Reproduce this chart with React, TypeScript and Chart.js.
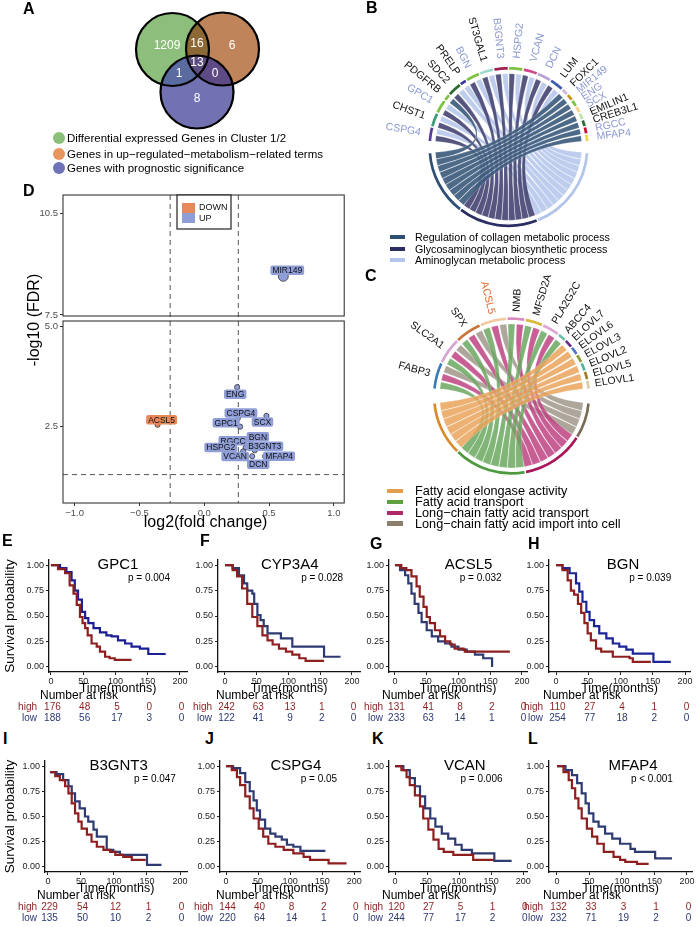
import React, { useEffect, useRef } from 'react';
import { Chart, registerables } from 'chart.js';
Chart.register(...registerables);

const FONT = "'Liberation Sans', Arial, Helvetica, sans-serif";

// ---------------- Panel A: Venn ----------------
const vennSets = [
  'Differential expressed Genes in Cluster 1/2',
  'Genes in up\u2212regulated\u2212metabolism\u2212related terms',
  'Genes with prognostic significance',
];
const vennRegions = ['A', 'B', 'C', 'AB', 'AC', 'BC', 'ABC'];
const vennCounts = [1209, 6, 8, 16, 1, 0, 13];

// ---------------- Panel B: chord ----------------
const bGenes = ['CSPG4', 'CHST1', 'GPC1', 'PDGFRB', 'SDC2', 'PRELP', 'BGN', 'ST3GAL1', 'B3GNT3', 'HSPG2', 'VCAN', 'DCN', 'LUM', 'FOXC1', 'MIR149', 'ENG', 'SCX', 'EMILIN1', 'CREB3L1', 'RGCC', 'MFAP4'];
const bTerms = ['Regulation of collagen metabolic process', 'Glycosaminoglycan biosynthetic process', 'Aminoglycan metabolic process'];
const bRegulationGenes = ['PDGFRB', 'FOXC1', 'MIR149', 'ENG', 'SCX', 'EMILIN1', 'CREB3L1', 'RGCC', 'MFAP4'];
const bGlycoGenes = ['CSPG4', 'CHST1', 'GPC1', 'SDC2', 'BGN', 'ST3GAL1', 'B3GNT3', 'HSPG2', 'VCAN', 'DCN', 'LUM'];
const bAminoGenes = ['CSPG4', 'CHST1', 'GPC1', 'SDC2', 'PRELP', 'BGN', 'ST3GAL1', 'B3GNT3', 'HSPG2', 'VCAN', 'DCN', 'LUM'];

// ---------------- Panel C: chord ----------------
const cGenes = ['FABP3', 'SLC2A1', 'SPX', 'ACSL5', 'NMB', 'MFSD2A', 'PLA2G2C', 'ABCC4', 'ELOVL7', 'ELOVL6', 'ELOVL3', 'ELOVL2', 'ELOVL5', 'ELOVL1'];
const cTerms = ['Fatty acid elongase activity', 'Fatty acid transport', 'Long\u2212chain fatty acid transport', 'Long\u2212chain fatty acid import into cell'];
const cElongaseGenes = ['ELOVL7', 'ELOVL6', 'ELOVL3', 'ELOVL2', 'ELOVL5', 'ELOVL1'];
const cTransportGenes = ['FABP3', 'SLC2A1', 'SPX', 'ACSL5', 'NMB', 'MFSD2A', 'PLA2G2C', 'ABCC4'];
const cLcTransportGenes = ['FABP3', 'SLC2A1', 'SPX', 'ACSL5', 'NMB', 'MFSD2A', 'PLA2G2C'];
const cLcImportGenes = ['FABP3', 'SLC2A1', 'SPX', 'ACSL5'];

// ---------------- Panel D: volcano ----------------
const vGenes = ['MIR149', 'ENG', 'CSPG4', 'SCX', 'GPC1', 'ACSL5', 'BGN', 'RGCC', 'HSPG2', 'B3GNT3', 'VCAN', 'DCN', 'MFAP4'];
const vLogFC = [0.61, 0.254, 0.26, 0.48, 0.277, -0.36, 0.36, 0.33, 0.32, 0.39, 0.30, 0.37, 0.47];
const vNegLogFDR = [8.64, 3.49, 2.72, 2.77, 2.50, 2.55, 2.15, 2.10, 1.98, 1.91, 1.88, 1.76, 1.76];
const vXTicks = [-1.0, -0.5, 0.0, 0.5, 1.0];
const vYTicksHigh = [7.5, 10.5];
const vYTicksLow = [2.5, 5.0];
const fcCut = 0.263;
const fdrCut = 1.301;

// ---------------- Panels E-L: survival ----------------
const survTimeTicks = [0, 50, 100, 150, 200];

const gpc1HighT = [0, 11, 22, 29, 35, 40, 45, 49, 53, 57, 63, 71, 76, 84, 91, 99, 125];
const gpc1HighS = [1, 0.96, 0.92, 0.80, 0.72, 0.61, 0.49, 0.43, 0.38, 0.31, 0.23, 0.20, 0.15, 0.10, 0.085, 0.07, 0.07];
const gpc1LowT = [0, 14, 24, 32, 37, 42, 48, 53, 58, 66, 76, 86, 94, 104, 115, 125, 138, 151, 178];
const gpc1LowS = [1, 0.97, 0.93, 0.85, 0.75, 0.66, 0.54, 0.48, 0.43, 0.38, 0.34, 0.31, 0.30, 0.26, 0.23, 0.20, 0.18, 0.127, 0.127];
const gpc1RiskHigh = [176, 48, 5, 0, 0];
const gpc1RiskLow = [188, 56, 17, 3, 0];

const cyp3a4HighT = [0, 12, 19, 27, 35, 43, 51, 59, 67, 75, 85, 96, 106, 117, 127, 156];
const cyp3a4HighS = [1, 0.95, 0.89, 0.77, 0.62, 0.49, 0.40, 0.31, 0.26, 0.22, 0.18, 0.15, 0.12, 0.085, 0.06, 0.06];
const cyp3a4LowT = [0, 12, 22, 30, 35, 43, 46, 51, 56, 61, 67, 88, 106, 156, 182];
const cyp3a4LowS = [1, 0.97, 0.90, 0.82, 0.75, 0.72, 0.62, 0.51, 0.46, 0.40, 0.33, 0.28, 0.20, 0.10, 0.10];
const cyp3a4RiskHigh = [242, 63, 13, 1, 0];
const cyp3a4RiskLow = [122, 41, 9, 2, 0];

const acsl5HighT = [0, 10, 18, 26, 34, 39, 45, 50, 55, 63, 71, 79, 87, 94, 108, 110, 181];
const acsl5HighS = [1, 0.97, 0.95, 0.89, 0.79, 0.69, 0.59, 0.49, 0.43, 0.36, 0.30, 0.25, 0.22, 0.18, 0.17, 0.15, 0.15];
const acsl5LowT = [0, 8, 16, 21, 26, 31, 37, 42, 50, 58, 68, 79, 89, 100, 113, 126, 139, 153];
const acsl5LowS = [1, 0.95, 0.90, 0.82, 0.72, 0.62, 0.53, 0.44, 0.36, 0.30, 0.25, 0.23, 0.20, 0.17, 0.15, 0.12, 0.085, 0.0];
const acsl5RiskHigh = [131, 41, 8, 2, 0];
const acsl5RiskLow = [233, 63, 14, 1, 0];

const bgnHighT = [0, 10, 18, 23, 28, 34, 39, 44, 49, 54, 62, 70, 88, 114, 119, 147];
const bgnHighS = [1, 0.95, 0.85, 0.75, 0.71, 0.62, 0.53, 0.43, 0.33, 0.26, 0.18, 0.15, 0.10, 0.085, 0.05, 0.05];
const bgnLowT = [0, 10, 21, 31, 36, 41, 47, 52, 59, 67, 78, 88, 98, 109, 119, 151, 178];
const bgnLowS = [1, 0.97, 0.92, 0.82, 0.74, 0.64, 0.54, 0.46, 0.40, 0.33, 0.28, 0.23, 0.20, 0.17, 0.13, 0.05, 0.05];
const bgnRiskHigh = [110, 27, 4, 1, 0];
const bgnRiskLow = [254, 77, 18, 2, 0];

const b3gnt3HighT = [3, 11, 18, 26, 31, 36, 41, 46, 51, 59, 66, 74, 84, 94, 102, 114, 127, 148];
const b3gnt3HighS = [0.94, 0.90, 0.86, 0.80, 0.73, 0.63, 0.53, 0.45, 0.38, 0.32, 0.25, 0.20, 0.17, 0.15, 0.12, 0.10, 0.07, 0.07];
const b3gnt3LowT = [3, 13, 23, 31, 36, 41, 48, 56, 61, 69, 74, 89, 99, 109, 150, 172];
const b3gnt3LowS = [0.94, 0.92, 0.86, 0.80, 0.73, 0.65, 0.58, 0.50, 0.45, 0.37, 0.30, 0.17, 0.15, 0.12, 0.02, 0.02];
const b3gnt3RiskHigh = [229, 54, 12, 1, 0];
const b3gnt3RiskLow = [135, 50, 10, 2, 0];

const cspg4HighT = [0, 9, 17, 22, 30, 37, 43, 51, 58, 66, 77, 90, 105, 121, 131, 160, 188];
const cspg4HighS = [1, 0.96, 0.89, 0.81, 0.70, 0.58, 0.48, 0.38, 0.30, 0.23, 0.20, 0.17, 0.135, 0.10, 0.07, 0.035, 0.035];
const cspg4LowT = [0, 11, 22, 30, 37, 43, 48, 53, 61, 69, 77, 87, 95, 105, 116, 155];
const cspg4LowS = [1, 0.98, 0.93, 0.84, 0.75, 0.66, 0.56, 0.47, 0.38, 0.33, 0.30, 0.27, 0.22, 0.20, 0.16, 0.16];
const cspg4RiskHigh = [144, 40, 8, 2, 0];
const cspg4RiskLow = [220, 64, 14, 1, 0];

const vcanHighT = [0, 10, 18, 23, 31, 39, 44, 52, 60, 68, 76, 91, 122, 154];
const vcanHighS = [1, 0.96, 0.89, 0.81, 0.71, 0.60, 0.48, 0.37, 0.27, 0.18, 0.15, 0.12, 0.07, 0.07];
const vcanLowT = [0, 13, 23, 31, 39, 47, 55, 63, 73, 83, 94, 104, 120, 155, 182];
const vcanLowS = [1, 0.96, 0.88, 0.80, 0.70, 0.58, 0.48, 0.40, 0.33, 0.28, 0.22, 0.17, 0.135, 0.06, 0.06];
const vcanRiskHigh = [120, 27, 5, 1, 0];
const vcanRiskLow = [244, 77, 17, 2, 0];

const mfap4HighT = [0, 10, 18, 23, 28, 33, 38, 46, 54, 62, 72, 87, 97, 105, 123, 141];
const mfap4HighS = [1, 0.94, 0.86, 0.78, 0.68, 0.58, 0.48, 0.38, 0.30, 0.23, 0.15, 0.10, 0.07, 0.05, 0.03, 0.03];
const mfap4LowT = [0, 13, 23, 31, 38, 44, 49, 56, 64, 74, 85, 97, 113, 120, 151, 177];
const mfap4LowS = [1, 0.96, 0.91, 0.83, 0.73, 0.63, 0.53, 0.45, 0.40, 0.33, 0.28, 0.23, 0.18, 0.15, 0.085, 0.085];
const mfap4RiskHigh = [132, 33, 3, 1, 0];
const mfap4RiskLow = [232, 71, 19, 2, 0];

// ---------------- styles ----------------
const HIGH_COL = '#8E1F1F';
const LOW_TXT = '#2C3A74';
const UP_COL = '#8F9ED6';
const DOWN_COL = '#E8875A';

function txt(ctx: any, s: string, x: number, y: number, size: number, color = '#000', align: any = 'center', rot = 0, weight = 'normal') {
  ctx.save();
  ctx.translate(x, y);
  if (rot) ctx.rotate(rot);
  ctx.font = `${weight} ${size}px ${FONT}`;
  ctx.fillStyle = color;
  ctx.textAlign = align;
  ctx.textBaseline = 'middle';
  ctx.fillText(s, 0, 0);
  ctx.restore();
}

const noInteract = { events: [], responsive: false, animation: false as const };
const noPlugins = { legend: { display: false }, tooltip: { enabled: false } };

// ---------------- Venn config ----------------
const vennCenters = [[172.5, 49.5], [222.5, 49], [197, 92]];
const vennRadius = 36.5;
const vennLabelPos = [[167, 46], [232, 46], [197, 99], [197, 44], [179, 74], [215, 74], [197, 63]];
const vennFills: Record<string, string> = { A: '#8DBE7B', B: '#C0845B', C: '#7272B2', AB: '#8C6834', AC: '#5A6C9F', BC: '#5E4B85', ABC: '#5C4C80' };

function vennConfig() {
  const plugin = {
    id: 'venn',
    beforeDatasetsDraw(chart: any) {
      const els = chart.getDatasetMeta(0).data;
      const c = els.map((e: any) => ({ x: e.x, y: e.y, r: e.options.radius }));
      const ctx = chart.ctx;
      const circ = (k: number) => { ctx.beginPath(); ctx.arc(c[k].x, c[k].y, c[k].r, 0, Math.PI * 2); };
      const fill = (k: number, col: string) => { circ(k); ctx.fillStyle = col; ctx.fill(); };
      const clip = (k: number) => { circ(k); ctx.clip(); };
      ctx.save();
      fill(0, vennFills.A); fill(1, vennFills.B); fill(2, vennFills.C);
      ctx.save(); clip(0); fill(1, vennFills.AB); ctx.restore();
      ctx.save(); clip(0); fill(2, vennFills.AC); ctx.restore();
      ctx.save(); clip(1); fill(2, vennFills.BC); ctx.restore();
      ctx.save(); clip(0); clip(1); fill(2, vennFills.ABC); ctx.restore();
      ctx.restore();
    },
    afterDatasetsDraw(chart: any) {
      const { x, y } = chart.scales;
      vennRegions.forEach((r, i) => {
        txt(chart.ctx, String(vennCounts[i]), x.getPixelForValue(vennLabelPos[i][0]), y.getPixelForValue(vennLabelPos[i][1]), 12, '#fff');
      });
    },
  };
  return {
    type: 'bubble',
    data: {
      datasets: [{
        data: vennSets.map((_, i) => ({ x: vennCenters[i][0], y: vennCenters[i][1], r: vennRadius })),
        backgroundColor: 'rgba(0,0,0,0)', borderColor: '#000', borderWidth: 2.2,
      }],
    },
    options: {
      ...noInteract,
      layout: { padding: 0, autoPadding: false },
      plugins: noPlugins,
      clip: false,
      scales: {
        x: { type: 'linear', min: 0, max: 350, display: false },
        y: { type: 'linear', min: 0, max: 135, reverse: true, display: false },
      },
    },
    plugins: [plugin],
  };
}

// ---------------- Chord config ----------------
function chordConfig(cfg: any) {
  const { genes, geneColors, labelColors, terms, termGenes, ringColors, ribbonColors, gap, ribbonInset, labelGap, labelSize, pad, cutout, ribbonAlpha } = cfg;
  const links: any[] = [];
  termGenes.forEach((list: string[], ti: number) => list.forEach((g) => links.push({ g: genes.indexOf(g), t: ti })));
  const geneCounts = genes.map((_: any, gi: number) => links.filter((l) => l.g === gi).length);
  const termCounts = termGenes.map((l: string[]) => l.length);
  const order = terms.map((_: any, i: number) => terms.length - 1 - i);
  const data = [...geneCounts, gap, ...order.map((t: number) => termCounts[t]), gap];
  const bg = [...geneColors, 'rgba(0,0,0,0)', ...order.map((t: number) => ringColors[t]), 'rgba(0,0,0,0)'];
  const bw = data.map((_: any, i: number) => (i === genes.length || i === data.length - 1 ? 0 : 1.3));
  const total = data.reduce((a: number, b: number) => a + b, 0);
  const geneSpan = geneCounts.reduce((a: number, b: number) => a + b, 0) * 360 / total;
  const rotation = 360 - geneSpan / 2;
  const plugin = {
    id: 'chord',
    afterDatasetsDraw(chart: any) {
      const arcs = chart.getDatasetMeta(0).data;
      const ctx = chart.ctx;
      const a0 = arcs[0];
      const cx = a0.x, cy = a0.y, rIn = a0.innerRadius, rOut = a0.outerRadius;
      const rr = rIn - ribbonInset;
      const geneSlot = new Map();
      const termSlot = new Map();
      genes.forEach((_: any, gi: number) => {
        const mine = links.filter((l) => l.g === gi).sort((a, b) => a.t - b.t);
        const arc = arcs[gi];
        const u = (arc.endAngle - arc.startAngle) / mine.length;
        mine.forEach((l, k) => geneSlot.set(l, [arc.startAngle + k * u, arc.startAngle + (k + 1) * u]));
      });
      terms.forEach((_: any, ti: number) => {
        const mine = links.filter((l) => l.t === ti).sort((a, b) => b.g - a.g);
        const arc = arcs[genes.length + 1 + order.indexOf(ti)];
        const u = (arc.endAngle - arc.startAngle) / mine.length;
        mine.forEach((l, k) => termSlot.set(l, [arc.startAngle + k * u, arc.startAngle + (k + 1) * u]));
      });
      ctx.save();
      ctx.globalAlpha = ribbonAlpha;
      for (let ti = terms.length - 1; ti >= 0; ti--) {
        links.filter((l) => l.t === ti).forEach((l) => {
          let [a1, a2] = geneSlot.get(l);
          let [b1, b2] = termSlot.get(l);
          const s1 = (a2 - a1) * 0.1; a1 += s1; a2 -= s1;
          const s2 = (b2 - b1) * 0.03; b1 += s2; b2 -= s2;
          ctx.beginPath();
          ctx.arc(cx, cy, rr, a1, a2);
          ctx.quadraticCurveTo(cx, cy, cx + rr * Math.cos(b1), cy + rr * Math.sin(b1));
          ctx.arc(cx, cy, rr, b1, b2);
          ctx.quadraticCurveTo(cx, cy, cx + rr * Math.cos(a1), cy + rr * Math.sin(a1));
          ctx.closePath();
          ctx.fillStyle = ribbonColors[ti];
          ctx.fill();
          ctx.strokeStyle = 'rgba(255,255,255,0.55)';
          ctx.lineWidth = 0.4;
          ctx.stroke();
        });
      }
      ctx.globalAlpha = 1;
      genes.forEach((g: string, gi: number) => {
        const arc = arcs[gi];
        const mid = (arc.startAngle + arc.endAngle) / 2;
        const rl = rOut + labelGap;
        let deg = (mid * 180 / Math.PI) % 360;
        if (deg < 0) deg += 360;
        ctx.save();
        ctx.translate(cx + rl * Math.cos(mid), cy + rl * Math.sin(mid));
        ctx.font = `${labelSize}px ${FONT}`;
        ctx.fillStyle = labelColors[gi];
        ctx.textBaseline = 'middle';
        if (deg > 90 && deg < 270) { ctx.rotate(mid + Math.PI); ctx.textAlign = 'right'; }
        else { ctx.rotate(mid); ctx.textAlign = 'left'; }
        ctx.fillText(g, 0, 0);
        ctx.restore();
      });
      ctx.restore();
    },
  };
  return {
    type: 'doughnut',
    data: { labels: data.map((_: any, i: number) => String(i)), datasets: [{ data, backgroundColor: bg, borderColor: '#fff', borderWidth: bw }] },
    options: { ...noInteract, rotation, cutout, layout: { padding: pad }, plugins: noPlugins },
    plugins: [plugin],
  };
}

const bGeneColors = ['#5B3C9E', '#3F9C7A', '#7DC243', '#7DC243', '#2F6B2F', '#3A3A9A', '#7DC243', '#9FD8CC', '#A0204F', '#7DC243', '#D0458A', '#B9A3D6', '#3F5BB0', '#D2B6DE', '#C8921E', '#7DC243', '#F2D48A', '#BFE3A8', '#2E6B2E', '#C8102E', '#F2D34A'];
const cGeneColors = ['#3C7DB8', '#D8A6D2', '#C8743C', '#F2C9A0', '#D88ABF', '#D9B83E', '#DDA5D3', '#6CC1A6', '#6A2C8C', '#4C78C8', '#8A9A2C', '#4FB3A0', '#A6792E', '#D9CBA3'];
const bRing = ['#2F4F74', '#2B2D63', '#B3C5EB'];
const bRibbon = ['#3E5C7E', '#474775', '#B9C9EC'];
const cRing = ['#D98A2B', '#4E9A3F', '#A8185B', '#7A6B55'];
const cRibbon = ['#E9A35A', '#6BA860', '#BE4381', '#A0968A'];

function bConfig() {
  return chordConfig({
    genes: bGenes, geneColors: bGeneColors,
    labelColors: bGenes.map((g) => (vGenes.includes(g) ? (vLogFC[vGenes.indexOf(g)] > 0 ? '#8C9AD2' : '#E06A30') : '#111')),
    terms: bTerms, termGenes: [bRegulationGenes, bGlycoGenes, bAminoGenes],
    ringColors: bRing, ribbonColors: bRibbon, gap: 1.5, ribbonInset: 3.5, labelGap: 8, labelSize: 10.5,
    pad: { left: 77, top: 65.5, right: 109, bottom: 11.5 }, cutout: '95%', ribbonAlpha: 0.92,
  });
}
function cConfig() {
  return chordConfig({
    genes: cGenes, geneColors: cGeneColors,
    labelColors: cGenes.map((g) => (vGenes.includes(g) ? (vLogFC[vGenes.indexOf(g)] > 0 ? '#8C9AD2' : '#E06A30') : '#111')),
    terms: cTerms, termGenes: [cElongaseGenes, cTransportGenes, cLcTransportGenes, cLcImportGenes],
    ringColors: cRing, ribbonColors: cRibbon, gap: 1.5, ribbonInset: 3.5, labelGap: 5, labelSize: 10.5,
    pad: { left: 81.5, top: 51, right: 107.5, bottom: 9 }, cutout: '95%', ribbonAlpha: 0.85,
  });
}

// ---------------- Volcano config ----------------
const vLabelOffsets = [[4, -6], [-2, 7], [3, -5], [-4, 6], [-14, -4], [4, -5], [7, -4], [-14, -2], [-25, 0], [10, -4], [-8, 5], [6, 8], [14, 0]];

function fmtSigned(v: number) {
  if (Math.abs(v) < 1e-9) return '0.0';
  return (v < 0 ? '\u2212' : '') + Math.abs(v).toFixed(1);
}

function volcanoConfig() {
  const pts = vGenes.map((g, i) => ({ x: vLogFC[i], y: vNegLogFDR[i], gi: i }));
  const isHigh = (p: any) => p.y > 6;
  const axisTicks = { font: { size: 9.5, family: FONT }, color: '#4D4D4D', padding: 2, autoSkip: false, maxRotation: 0 };
  const axisGrid = { drawOnChartArea: false, tickLength: 3, color: '#333' };
  const plugin = {
    id: 'volcano',
    beforeDatasetsDraw(chart: any) {
      const { ctx, chartArea: ca, scales } = chart;
      const { x, yLow } = scales;
      ctx.save();
      ctx.setLineDash([5, 4]);
      ctx.strokeStyle = '#555';
      ctx.lineWidth = 1;
      [-fcCut, fcCut].forEach((v) => {
        const px = x.getPixelForValue(v);
        ctx.beginPath(); ctx.moveTo(px, ca.top); ctx.lineTo(px, ca.bottom); ctx.stroke();
      });
      const py = yLow.getPixelForValue(fdrCut);
      ctx.beginPath(); ctx.moveTo(ca.left, py); ctx.lineTo(ca.right, py); ctx.stroke();
      ctx.restore();
    },
    afterDatasetsDraw(chart: any) {
      const { ctx, chartArea: ca, scales } = chart;
      const { yHigh, yLow } = scales;
      chart.data.datasets.forEach((ds: any, di: number) => {
        const meta = chart.getDatasetMeta(di);
        meta.data.forEach((el: any, j: number) => {
          const p = ds.data[j];
          const off = vLabelOffsets[p.gi];
          const lx = el.x + off[0], ly = el.y + off[1];
          ctx.font = `8.5px ${FONT}`;
          const w = ctx.measureText(vGenes[p.gi]).width + 4;
          const h = 9.5;
          ctx.fillStyle = p.x < 0 ? DOWN_COL : UP_COL;
          ctx.beginPath();
          if (ctx.roundRect) ctx.roundRect(lx - w / 2, ly - h / 2, w, h, 2); else ctx.rect(lx - w / 2, ly - h / 2, w, h);
          ctx.fill();
          txt(ctx, vGenes[p.gi], lx, ly + 0.5, 8.5, '#111');
        });
      });
      ctx.save();
      ctx.strokeStyle = '#222';
      ctx.lineWidth = 1;
      ctx.strokeRect(ca.left, yHigh.top, ca.right - ca.left, yHigh.bottom - yHigh.top - 2);
      ctx.strokeRect(ca.left, yLow.top + 3, ca.right - ca.left, yLow.bottom - yLow.top - 3);
      const lx = ca.left + 114, ly = ca.top;
      ctx.fillStyle = '#fff';
      ctx.fillRect(lx, ly, 54, 34);
      ctx.lineWidth = 1.2;
      ctx.strokeRect(lx, ly, 54, 34);
      ctx.fillStyle = DOWN_COL; ctx.fillRect(lx + 5, ly + 8, 13, 10);
      ctx.fillStyle = UP_COL; ctx.fillRect(lx + 5, ly + 18, 13, 10);
      ctx.restore();
      txt(ctx, 'DOWN', lx + 22, ly + 13, 9, '#111', 'left');
      txt(ctx, 'UP', lx + 22, ly + 24, 9, '#111', 'left');
      txt(ctx, 'log2(fold change)', (ca.left + ca.right) / 2 + 2, ca.bottom + 20, 16);
      txt(ctx, '-log10 (FDR)', 35, 135, 16, '#000', 'center', -Math.PI / 2);
    },
  };
  const ds = (arr: any[], axis: string) => ({
    data: arr, yAxisID: axis,
    backgroundColor: arr.map((p) => (p.x < 0 ? DOWN_COL : UP_COL)),
    borderColor: '#333', borderWidth: 0.8,
    pointRadius: arr.map((p) => (isHigh(p) ? 5 : 2.6)),
  });
  return {
    type: 'scatter',
    data: {
      datasets: [
        ds(pts.filter((p) => !isHigh(p)), 'yLow'),
        ds(pts.filter((p) => isHigh(p)), 'yHigh'),
      ],
    },
    options: {
      ...noInteract,
      layout: { padding: { left: 0, right: 5, top: 10, bottom: 0 } },
      plugins: noPlugins,
      clip: false,
      scales: {
        x: {
          type: 'linear', min: -1.09, max: 1.08,
          afterBuildTicks: (s: any) => { s.ticks = vXTicks.map((v) => ({ value: v })); },
          afterFit: (s: any) => { s.height = 32; },
          ticks: { ...axisTicks, callback: (v: number) => fmtSigned(v) },
          grid: axisGrid, border: { display: false },
        },
        yHigh: {
          type: 'linear', position: 'left', stack: 'v', stackWeight: 123, weight: 2, min: 7.41, max: 11.04,
          afterBuildTicks: (s: any) => { s.ticks = vYTicksHigh.map((v) => ({ value: v })); },
          afterFit: (s: any) => { s.width = 63; },
          ticks: { ...axisTicks, callback: (v: number) => v.toFixed(1) },
          grid: axisGrid, border: { display: false },
        },
        yLow: {
          type: 'linear', position: 'left', stack: 'v', stackWeight: 185, weight: 1, min: 0.59, max: 5.22,
          afterBuildTicks: (s: any) => { s.ticks = vYTicksLow.map((v) => ({ value: v })); },
          afterFit: (s: any) => { s.width = 63; },
          ticks: { ...axisTicks, callback: (v: number) => v.toFixed(1) },
          grid: axisGrid, border: { display: false },
        },
      },
    },
    plugins: [plugin],
  };
}

// ---------------- Survival configs ----------------
const survPanels = [
  { key: 'E', gene: 'GPC1', pText: 'p = 0.004', hT: gpc1HighT, hS: gpc1HighS, lT: gpc1LowT, lS: gpc1LowS, rH: gpc1RiskHigh, rL: gpc1RiskLow,
    left: 0, top: 548, w: 195, h: 182, axisW: 49, padR: 8, padT: 12, xAxisH: 58, xMin: -3, xMax: 211, titleX: 104, pX: 152, lowColor: '#1C1F94', yTitle: true, riskLab: 37, nar: 40 },
  { key: 'F', gene: 'CYP3A4', pText: 'p = 0.028', hT: cyp3a4HighT, hS: cyp3a4HighS, lT: cyp3a4LowT, lS: cyp3a4LowS, rH: cyp3a4RiskHigh, rL: cyp3a4RiskLow,
    left: 175, top: 548, w: 190, h: 182, axisW: 43, padR: 5, padT: 12, xAxisH: 58, xMin: -11, xMax: 212.6, titleX: 102, pX: 153, lowColor: '#2E3B72', riskLab: 212, nar: 216 },
  { key: 'G', gene: 'ACSL5', pText: 'p = 0.032', hT: acsl5HighT, hS: acsl5HighS, lT: acsl5LowT, lS: acsl5LowS, rH: acsl5RiskHigh, rL: acsl5RiskLow,
    left: 345, top: 548, w: 190, h: 182, axisW: 44, padR: 8, padT: 12, xAxisH: 58, xMin: -9.4, xMax: 208, titleX: 116, pX: 135, lowColor: '#2E3B72', riskLab: 383, nar: 382 },
  { key: 'H', gene: 'BGN', pText: 'p = 0.039', hT: bgnHighT, hS: bgnHighS, lT: bgnLowT, lS: bgnLowS, rH: bgnRiskHigh, rL: bgnRiskLow,
    left: 515, top: 548, w: 184, h: 182, axisW: 34, padR: 9, padT: 12, xAxisH: 58, xMin: -10.9, xMax: 207.7, titleX: 104, pX: 146, lowColor: '#1C2596', riskLab: 543, nar: 543 },
  { key: 'I', gene: 'B3GNT3', pText: 'p = 0.047', hT: b3gnt3HighT, hS: b3gnt3HighS, lT: b3gnt3LowT, lS: b3gnt3LowS, rH: b3gnt3RiskHigh, rL: b3gnt3RiskLow,
    left: 0, top: 748, w: 195, h: 178, axisW: 45, padR: 8, padT: 13, xAxisH: 54, xMin: -4.5, xMax: 210.6, titleX: 107, pX: 162, lowColor: '#2E3B72', yTitle: true, riskLab: 37, nar: 37 },
  { key: 'J', gene: 'CSPG4', pText: 'p = 0.05', hT: cspg4HighT, hS: cspg4HighS, lT: cspg4LowT, lS: cspg4LowS, rH: cspg4RiskHigh, rL: cspg4RiskLow,
    left: 175, top: 748, w: 190, h: 178, axisW: 45, padR: 5, padT: 13, xAxisH: 54, xMin: -9.4, xMax: 209, titleX: 109, pX: 145, lowColor: '#2E3B72', riskLab: 213, nar: 216 },
  { key: 'K', gene: 'VCAN', pText: 'p = 0.006', hT: vcanHighT, hS: vcanHighS, lT: vcanLowT, lS: vcanLowS, rH: vcanRiskHigh, rL: vcanRiskLow,
    left: 345, top: 748, w: 190, h: 178, axisW: 44, padR: 8, padT: 13, xAxisH: 54, xMin: -9.4, xMax: 206, titleX: 109, pX: 135, lowColor: '#2E3B72', riskLab: 383, nar: 382 },
  { key: 'L', gene: 'MFAP4', pText: 'p < 0.001', hT: mfap4HighT, hS: mfap4HighS, lT: mfap4LowT, lS: mfap4LowS, rH: mfap4RiskHigh, rL: mfap4RiskLow,
    left: 515, top: 748, w: 184, h: 178, axisW: 34, padR: 7, padT: 13, xAxisH: 54, xMin: -12.3, xMax: 207.7, titleX: 117, pX: 146, lowColor: '#2E3B72', riskLab: 543, nar: 543 },
];

function survConfig(p: any) {
  const tickStyle = { font: { size: 9, family: FONT }, color: '#222', padding: 1, autoSkip: false, maxRotation: 0 };
  const grid = { drawOnChartArea: false, tickLength: 3, color: '#222', lineWidth: 1 };
  const plugin = {
    id: 'surv' + p.key,
    afterDraw(chart: any) {
      const { ctx, chartArea: ca, scales } = chart;
      const { x, y } = scales;
      const rl = p.riskLab - p.left;
      const nl = p.nar - p.left;
      txt(ctx, p.gene, x.getPixelForValue(p.titleX), y.getPixelForValue(1.0), 15);
      txt(ctx, p.pText, x.getPixelForValue(p.pX), y.getPixelForValue(0.87), 10);
      txt(ctx, 'Time(months)', (ca.left + ca.right) / 2, ca.bottom + 17, 12.5);
      txt(ctx, 'Number at risk', nl, ca.bottom + 24, 12, '#000', 'left');
      txt(ctx, 'high', rl, ca.bottom + 35.5, 10, HIGH_COL, 'right');
      txt(ctx, 'low', rl, ca.bottom + 46, 10, LOW_TXT, 'right');
      survTimeTicks.forEach((t, i) => {
        const px = x.getPixelForValue(t) + 1.5;
        txt(ctx, String(p.rH[i]), px, ca.bottom + 35.5, 10, HIGH_COL);
        txt(ctx, String(p.rL[i]), px, ca.bottom + 46, 10, LOW_TXT);
      });
      if (p.yTitle) txt(ctx, 'Survival probability', 10, (ca.top + ca.bottom) / 2, 13.5, '#000', 'center', -Math.PI / 2);
    },
  };
  return {
    type: 'line',
    data: {
      datasets: [
        { label: 'high', data: p.hT.map((t: number, i: number) => ({ x: t, y: p.hS[i] })), borderColor: HIGH_COL, borderWidth: 2.2, pointRadius: 0, stepped: true, fill: false },
        { label: 'low', data: p.lT.map((t: number, i: number) => ({ x: t, y: p.lS[i] })), borderColor: p.lowColor, borderWidth: 2.2, pointRadius: 0, stepped: true, fill: false },
      ],
    },
    options: {
      ...noInteract,
      layout: { padding: { left: 0, right: p.padR, top: p.padT, bottom: 0 } },
      plugins: noPlugins,
      scales: {
        x: {
          type: 'linear', min: p.xMin, max: p.xMax,
          afterBuildTicks: (s: any) => { s.ticks = survTimeTicks.map((v) => ({ value: v })); },
          afterFit: (s: any) => { s.height = p.xAxisH; },
          ticks: { ...tickStyle, callback: (v: number) => String(v) },
          grid, border: { color: '#111', width: 1.3 },
        },
        y: {
          type: 'linear', min: -0.05, max: 1.05,
          afterBuildTicks: (s: any) => { s.ticks = [0, 0.25, 0.5, 0.75, 1].map((v) => ({ value: v })); },
          afterFit: (s: any) => { s.width = p.axisW; },
          ticks: { ...tickStyle, padding: 2, callback: (v: number) => v.toFixed(2) },
          grid, border: { color: '#111', width: 1.3 },
        },
      },
    },
    plugins: [plugin],
  };
}

// ---------------- React ----------------
function ChartCanvas({ left, top, width, height, make }: { left: number; top: number; width: number; height: number; make: () => any }) {
  const ref = useRef<HTMLCanvasElement | null>(null);
  useEffect(() => {
    if (!ref.current) return;
    const chart = new Chart(ref.current, make());
    return () => { chart.destroy(); };
  }, []);
  return <canvas ref={ref} width={width} height={height} style={{ position: 'absolute', left, top, width, height }} />;
}

function Label({ x, y, size, children, bold = false, color = '#000', lh }: any) {
  const l = lh ?? size;
  return (
    <div style={{ position: 'absolute', left: x, top: y - l / 2, fontSize: size, lineHeight: `${l}px`, fontFamily: FONT, fontWeight: bold ? 'bold' : 'normal', color, whiteSpace: 'nowrap' }}>
      {children}
    </div>
  );
}

const panelLetters: [string, number, number][] = [
  ['A', 23, 3], ['B', 366, 2], ['C', 365, 270], ['D', 23, 185],
  ['E', 2, 535], ['F', 200, 535], ['G', 370, 538], ['H', 528, 538],
  ['I', 3, 733], ['J', 205, 733], ['K', 372, 733], ['L', 528, 733],
];
const vennLegendColors = ['#8CC07A', '#E8955F', '#7173B8'];
const vennLegendRows = [137.5, 153.5, 168];
const bLegendRows = [237, 249, 260];
const bLegendColors = ['#2F4F74', '#2B2D63', '#B3C5EB'];
const cLegendRows = [491, 502, 513, 523.5];
const cLegendColors = ['#E0A050', '#5DA040', '#B02868', '#8A7E6C'];

export default function App() {
  return (
    <div style={{ position: 'absolute', left: 0, top: 0, width: 699, height: 927, overflow: 'hidden', background: '#fff' }}>
      <ChartCanvas left={0} top={0} width={350} height={135} make={vennConfig} />
      <ChartCanvas left={350} top={0} width={349} height={240} make={bConfig} />
      <ChartCanvas left={350} top={265} width={349} height={220} make={cConfig} />
      <ChartCanvas left={0} top={185} width={350} height={350} make={volcanoConfig} />
      {survPanels.map((p) => (
        <ChartCanvas key={p.key} left={p.left} top={p.top} width={p.w} height={p.h} make={() => survConfig(p)} />
      ))}
      {panelLetters.map(([s, x, y]) => (
        <div key={s} style={{ position: 'absolute', left: x, top: y - 2, fontSize: 16, lineHeight: '16px', fontFamily: FONT, fontWeight: 'bold' }}>{s}</div>
      ))}
      {vennSets.map((s, i) => (
        <React.Fragment key={s}>
          <div style={{ position: 'absolute', left: 53, top: vennLegendRows[i] - 6, width: 12, height: 12, borderRadius: 6, background: vennLegendColors[i] }} />
          <Label x={67} y={vennLegendRows[i]} size={11.5} lh={14}>{s}</Label>
        </React.Fragment>
      ))}
      {bTerms.map((s, i) => (
        <React.Fragment key={s}>
          <div style={{ position: 'absolute', left: 390, top: bLegendRows[i] - 2.25, width: 15, height: 4.5, background: bLegendColors[i] }} />
          <Label x={415} y={bLegendRows[i]} size={10.7} lh={12}>{s}</Label>
        </React.Fragment>
      ))}
      {cTerms.map((s, i) => (
        <React.Fragment key={s}>
          <div style={{ position: 'absolute', left: 387, top: cLegendRows[i] - 2.25, width: 16, height: 4.5, background: cLegendColors[i] }} />
          <Label x={415} y={cLegendRows[i]} size={12.7} lh={12}>{s}</Label>
        </React.Fragment>
      ))}
    </div>
  );
}
